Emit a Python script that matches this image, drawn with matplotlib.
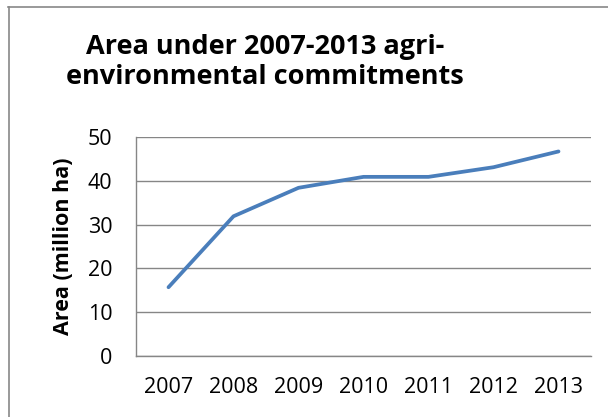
import matplotlib
matplotlib.use("Agg")
import matplotlib.pyplot as plt
from matplotlib.lines import Line2D

years = ["2007", "2008", "2009", "2010", "2011", "2012", "2013"]
area = [15.7, 31.9, 38.4, 40.9, 40.9, 43.1, 46.7]
yticks = [0, 10, 20, 30, 40, 50]

title = "Area under 2007-2013 agri-\nenvironmental commitments"
ylabel = "Area (million ha)"

plt.rcParams['font.family'] = ['Open Sans', 'DejaVu Sans']

W, H = 608, 417
fig = plt.figure(figsize=(W / 100, H / 100), dpi=100)
fig.patch.set_facecolor("white")

ax = fig.add_axes([136 / W, 1 - 356 / H, (591 - 136) / W, (356 - 137) / H])
x = list(range(len(years)))
ax.plot(x, area, color="#4A7EBB", linewidth=2.7, solid_capstyle="round", solid_joinstyle="round")
ax.set_xlim(-0.5, len(years) - 0.5)
ax.set_ylim(0, 50)
ax.set_yticks(yticks)
ax.set_xticks(x)
ax.set_xticklabels(years)
ax.yaxis.grid(True, color="#868686", linewidth=1.0)
ax.set_axisbelow(True)
for s in ["top", "right"]:
    ax.spines[s].set_visible(False)
for s in ["left", "bottom"]:
    ax.spines[s].set_color("#868686")
    ax.spines[s].set_linewidth(1.0)
ax.tick_params(axis="both", length=0, labelsize=15.5, colors="black")
ax.tick_params(axis="y", pad=17)
ax.tick_params(axis="x", pad=15)
ax.set_ylabel(ylabel, fontsize=15.5, fontweight="bold", labelpad=10)

fig.text(265 / W, 1 - 62 / H, title, ha="center", va="center", fontsize=19.5,
         fontweight="bold", linespacing=1.22)

# outer chart border (left and top visible)
fig.add_artist(Line2D([8.5 / W, 8.5 / W], [0, 1 - 7 / H], transform=fig.transFigure,
                      color="#888888", linewidth=1.2))
fig.add_artist(Line2D([8 / W, 1], [1 - 7 / H, 1 - 7 / H], transform=fig.transFigure,
                      color="#888888", linewidth=1.2))

fig.savefig("out.png", dpi=100, facecolor="white")
